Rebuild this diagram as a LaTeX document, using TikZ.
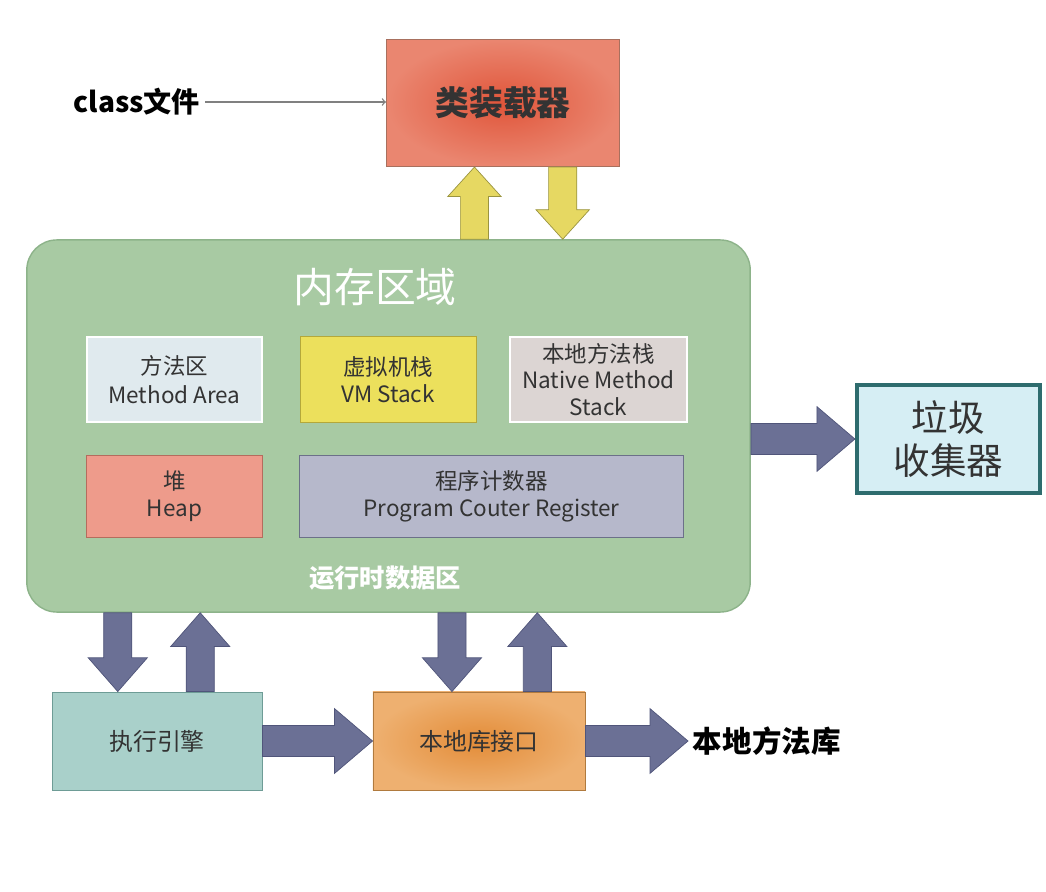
\documentclass[tikz,border=0pt]{standalone}
\usepackage{fontspec}
\setmainfont{Noto Sans CJK SC}
\usetikzlibrary{calc,positioning}

\definecolor{loadred}{HTML}{E0553A}
\definecolor{loadpink}{HTML}{EA8670}
\definecolor{loadedge}{HTML}{A8705E}
\definecolor{memgreen}{HTML}{A8CAA3}
\definecolor{memedge}{HTML}{8DB38A}
\definecolor{mablue}{HTML}{E0EAEE}
\definecolor{vmyellow}{HTML}{ECE05C}
\definecolor{vmedge}{HTML}{B4A83A}
\definecolor{nmsgray}{HTML}{DCD5D3}
\definecolor{heapred}{HTML}{EE9B8B}
\definecolor{heapedge}{HTML}{B56C5D}
\definecolor{pcgray}{HTML}{B6B8CB}
\definecolor{pcedge}{HTML}{6C7089}
\definecolor{gcblue}{HTML}{D6EEF4}
\definecolor{gcedge}{HTML}{2E6C6E}
\definecolor{execgreen}{HTML}{A9D0CA}
\definecolor{execedge}{HTML}{6E9C96}
\definecolor{natorange}{HTML}{E38C38}
\definecolor{natlight}{HTML}{EEB070}
\definecolor{natedge}{HTML}{B07A3E}
\definecolor{arrblue}{HTML}{6B7095}
\definecolor{arredge}{HTML}{50557A}
\definecolor{arryellow}{HTML}{E6D862}
\definecolor{arryedge}{HTML}{9A9440}
\definecolor{inktext}{HTML}{333333}

% block arrow from #2 to #3
\def\shaftw{10pt}\def\headw{19pt}\def\headl{21pt}
\newcommand\fat[3]{%
  \path[#1] let \p1=(#2), \p2=(#3), \n1={atan2(\y2-\y1,\x2-\x1)} in
    ($(\p1)+(\n1+90:\shaftw)$) -- ($(\p2)+(\n1:-\headl)+(\n1+90:\shaftw)$)
    -- ($(\p2)+(\n1:-\headl)+(\n1+90:\headw)$) -- (\p2)
    -- ($(\p2)+(\n1:-\headl)+(\n1-90:\headw)$) -- ($(\p2)+(\n1:-\headl)+(\n1-90:\shaftw)$)
    -- ($(\p1)+(\n1-90:\shaftw)$) -- cycle;}

\begin{document}
\begin{tikzpicture}[x=0.025cm, y=-0.025cm,
    box/.style={line width=0.6pt, align=center, inner sep=0pt, text=inktext},
    small/.style={font=\fontsize{16}{19}\selectfont},
    yellowarr/.style={draw=arryedge, fill=arryellow, line width=0.5pt},
    bluearr/.style={draw=arredge, fill=arrblue, line width=0.5pt}]
  \useasboundingbox (0,0) rectangle (1046,892);

  \node[box, draw=loadedge, inner color=loadred, outer color=loadpink,
        minimum width=5.83cm, minimum height=3.18cm, text=black!80,
        font=\fontsize{24}{28}\selectfont\bfseries] (load) at (503,103) {类装载器};
  \node[anchor=east, font=\fontsize{20}{23}\selectfont\bfseries] (cls) at (205,102) {class文件};
  \draw[->, gray, line width=1pt] (cls) -- (cls -| load.west);

  \node[draw=memedge, fill=memgreen, line width=1pt, rounded corners=0.75cm,
        minimum width=18.08cm, minimum height=9.3cm] (mem) at (388.5,426) {};
  \node[text=white, font=\fontsize{29}{33}\selectfont] (title) at (375,287) {内存区域};
  \node[text=white, font=\fontsize{18}{22}\selectfont\bfseries] (rt) at (385,578) {运行时数据区};

  \node[box, small, draw=white, line width=1.5pt, fill=mablue, minimum width=4.38cm,
        minimum height=2.13cm, font=\fontsize{16}{21}\selectfont] (ma) at (174.5,379.5) {方法区\\Method Area};
  \node[box, small, draw=vmedge, fill=vmyellow, minimum width=4.4cm,
        minimum height=2.13cm] (vm) at (388,379.5) {虚拟机栈\\VM Stack};
  \node[box, small, draw=white, line width=1.5pt, fill=nmsgray, minimum width=4.43cm,
        minimum height=2.13cm] (nms) at (598.5,379.5) {本地方法栈\\Native Method\\Stack};
  \node[box, small, draw=heapedge, fill=heapred, minimum width=4.38cm,
        minimum height=2.05cm] (heap) at (174.5,496) {堆\\Heap};
  \node[box, small, draw=pcedge, fill=pcgray, minimum width=9.58cm,
        minimum height=2.05cm] (pc) at (491.5,496) {程序计数器\\Program Couter Register};

  \node[box, draw=gcedge, line width=2.8pt, fill=gcblue, minimum width=4.58cm,
        minimum height=2.7cm, font=\fontsize{26}{31}\selectfont] (gc) at (948.5,439) {垃圾\\收集器};

  \node[box, draw=execedge, fill=execgreen, minimum width=5.25cm, minimum height=2.45cm,
        font=\fontsize{17}{20}\selectfont] (exec) at (157,741) {执行引擎};
  \node[box, draw=natedge, inner color=natorange, outer color=natlight, minimum width=5.3cm,
        minimum height=2.45cm, font=\fontsize{17}{20}\selectfont] (nat) at (479,741) {本地库接口};
  \node[anchor=west, font=\fontsize{21}{24}\selectfont\bfseries] (lib) at (688,741) {本地方法库};

  % arrows between loader and memory
  \coordinate (u1) at ($(load.south west)!0.378!(load.south east)$);
  \coordinate (d1) at ($(load.south west)!0.755!(load.south east)$);
  \fat{yellowarr}{mem.north -| u1}{u1}
  \fat{yellowarr}{d1}{mem.north -| d1}

  % arrows below memory
  \coordinate (e1) at ($(exec.north west)!0.314!(exec.north east)$);
  \coordinate (e2) at ($(exec.north west)!0.705!(exec.north east)$);
  \coordinate (n1) at ($(nat.north west)!0.373!(nat.north east)$);
  \coordinate (n2) at ($(nat.north west)!0.774!(nat.north east)$);
  \def\headw{21pt}\def\headl{24pt}
  \fat{bluearr}{mem.south -| e1}{e1}
  \fat{bluearr}{e2}{mem.south -| e2}
  \fat{bluearr}{mem.south -| n1}{n1}
  \fat{bluearr}{n2}{mem.south -| n2}

  \def\shaftw{11pt}\def\headw{23pt}\def\headl{27pt}
  \fat{bluearr}{exec.east}{nat.west}
  \fat{bluearr}{nat.east}{lib.west}
  \fat{bluearr}{mem.east |- gc.west}{gc.west}
\end{tikzpicture}
\end{document}
